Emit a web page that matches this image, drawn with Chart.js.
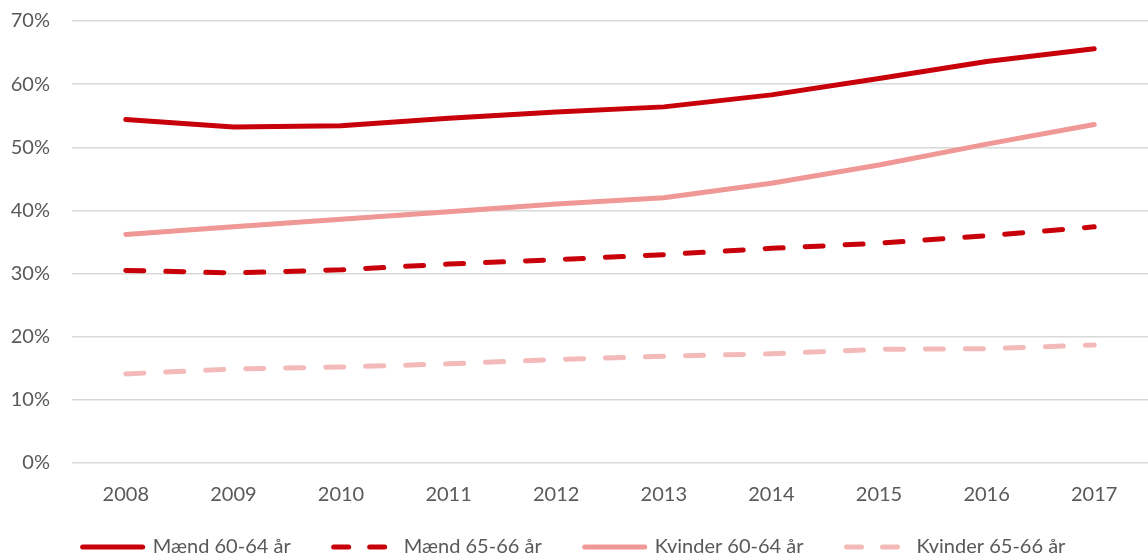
<!DOCTYPE html>
<html>
<head>
<meta charset="utf-8">
<script src="https://cdn.jsdelivr.net/npm/chart.js@4/dist/chart.umd.min.js"></script>
<style>
  html, body { margin: 0; padding: 0; background: #fff; }
  #wrap { width: 1148px; height: 556px; }
</style>
</head>
<body>
<div id="wrap"><canvas id="myChart"></canvas></div>
<script>
const years = ['2008', '2009', '2010', '2011', '2012', '2013', '2014', '2015', '2016', '2017']
const maend6064 = [54.4, 53.2, 53.4, 54.6, 55.6, 56.4, 58.3, 60.9, 63.6, 65.6]
const maend6566 = [30.5, 30.1, 30.6, 31.5, 32.2, 33.0, 34.0, 34.8, 36.0, 37.4]
const kvinder6064 = [36.2, 37.4, 38.6, 39.8, 41.0, 42.0, 44.3, 47.2, 50.5, 53.6]
const kvinder6566 = [14.1, 14.9, 15.2, 15.7, 16.4, 16.9, 17.3, 18.0, 18.1, 18.7]
const yTicks = [0, 10, 20, 30, 40, 50, 60, 70]

const darkRed = '#c8000a'
const lightRed = '#f09896'
const paleRed = '#f4baba'
const dash = [18, 22]
// two dashes then a long gap so the flat legend box only shows two marks
const legendDash = [15, 21, 15, 1000]

function line(label, data, color, dashed) {
    return {
        label: label,
        data: data,
        borderColor: color,
        backgroundColor: color,
        borderWidth: 5,
        borderDash: dashed ? dash : [],
        borderCapStyle: 'round',
        borderJoinStyle: 'round',
        pointRadius: 0,
        tension: 0,
        fill: false
    }
}

// x labels sit below the (shortened) x axis box, so widen its clip area
const unclipX = {
    id: 'unclipX',
    afterLayout: chart => { chart.scales.x.bottom = chart.height }
}

const ctx = document.getElementById('myChart').getContext('2d')
const myChart = new Chart(ctx, {
    type: 'line',
    data: {
        labels: years,
        datasets: [
            line('Mænd 60-64 år', maend6064, darkRed, false),
            line('Mænd 65-66 år', maend6566, darkRed, true),
            line('Kvinder 60-64 år', kvinder6064, lightRed, false),
            line('Kvinder 65-66 år', kvinder6566, paleRed, true)
        ]
    },
    plugins: [unclipX],
    options: {
        responsive: true,
        maintainAspectRatio: false,
        animation: false,
        layout: { padding: { top: 0, right: 0, bottom: -11, left: 0 } },
        plugins: {
            tooltip: { enabled: false },
            legend: {
                position: 'bottom',
                labels: {
                    boxWidth: 60,
                    boxHeight: 0,
                    padding: 43,
                    color: '#595959',
                    font: { family: 'Lato', size: 20 },
                    generateLabels: chart => Chart.defaults.plugins.legend.labels.generateLabels(chart).map(item => {
                        if (item.lineDash && item.lineDash.length) item.lineDash = legendDash
                        return item
                    })
                }
            }
        },
        scales: {
            x: {
                offset: true,
                afterFit: s => { s.height = 31 },
                grid: { display: false, drawTicks: false },
                border: { display: false },
                ticks: {
                    color: '#595959',
                    padding: 20,
                    font: { family: 'Lato', size: 20 }
                }
            },
            y: {
                min: 0,
                max: 70,
                afterFit: s => { s.width = 72; s.paddingTop = 21; s.paddingBottom = 0 },
                afterBuildTicks: s => { s.ticks = yTicks.map(v => ({ value: v })) },
                grid: { color: '#d9d9d9', lineWidth: 1.5, drawTicks: false },
                border: { display: false },
                ticks: {
                    color: '#595959',
                    padding: 22,
                    font: { family: 'Lato', size: 20 },
                    callback: v => v + '%'
                }
            }
        }
    }
})
</script>
</body>
</html>
